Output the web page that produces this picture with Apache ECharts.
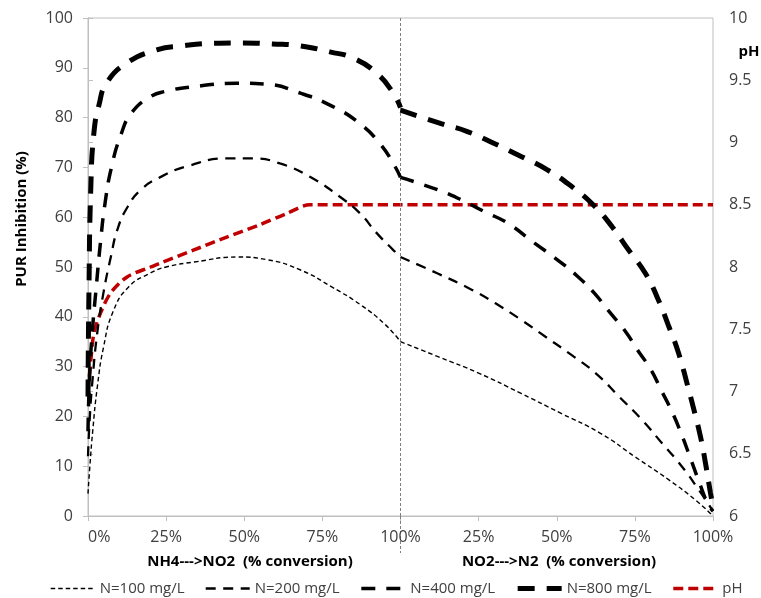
<!DOCTYPE html>
<html><head><meta charset="utf-8">
<script src="https://cdn.jsdelivr.net/npm/echarts@6/dist/echarts.min.js"></script>
<style>html,body{margin:0;padding:0;background:#fff}#c{width:761px;height:598px}</style>
</head><body><div id="c"></div>
<script>
// x positions: phase 1 (NH4->NO2) 0..100, phase 2 (NO2->N2) shifted by 100
const xTickLabels = ['0%','25%','50%','75%','100%','25%','50%','75%','100%'];
const seriesNames = ['N=100 mg/L','N=200 mg/L','N=400 mg/L','N=800 mg/L','pH'];
const phaseBoundary = 100;

// [conversion %, PUR inhibition %]
const n100Phase1 = [[0,4.5],[0.6,10],[1.5,17],[3,26],[5,34],[8,41],[13,46],[20,48.8],[25,50],[34,51],[48,52],[57,51.5],[68,49.4],[78,46],[87,42.5],[95,38.5],[100,35]];
const n100Phase2 = [[0,35],[12,32],[25,28.7],[38.6,24.6],[51.4,20.6],[64,16.6],[75,11.9],[86,7.2],[94.4,3.2],[100,0]];
const n200Phase1 = [[0,12],[0.5,19],[1.4,27],[3,37],[5,45],[7.3,52],[9.4,57.5],[12.6,62],[16.9,65.5],[23.3,68.1],[31.6,70.2],[44.4,71.8],[52.8,71.8],[61.4,70.8],[71,68.1],[80.6,64.1],[87,60.8],[92.4,56.8],[97.7,53.4],[100,52]];
const n200Phase2 = [[0,52],[11.9,48.7],[22.9,45.4],[30.4,42.7],[38.6,39.4],[46.4,36],[53.9,32.7],[62.4,28.7],[69.9,24],[77.3,19.3],[83.7,14.6],[90.1,9.9],[95.5,5.2],[100,1]];
const n400Phase1 = [[0,17],[0.5,28],[1.5,38],[2.5,45],[4,55],[5.5,63],[7.5,70],[10.5,76.5],[14,81],[20,84.2],[25,85.3],[33.6,86.2],[47.6,86.9],[57,86.7],[68,84.9],[78.4,82.2],[87,78.8],[93.4,74.8],[97.7,70.8],[100,68]];
const n400Phase2 = [[0,68],[11.9,65.5],[19.4,63.5],[26.9,61.1],[34.3,58.8],[42.9,54.8],[50.3,51.4],[56.7,48.1],[62.1,44.7],[66.3,41.4],[71.7,37.3],[75.9,33.3],[80.2,29.3],[83.4,25.3],[86.6,21.3],[89.8,16.6],[93,11.2],[95.7,6.6],[98.3,2.5],[100,1]];
const n800Phase1 = [[0,24],[0.3,45],[0.9,66],[1.9,77],[3.5,82.5],[6,87],[12.5,91],[22,93.6],[30,94.4],[39,94.9],[49.6,95],[59,94.8],[68,94.4],[77.4,93.2],[85,91.9],[92.4,88.9],[97.6,85],[100,82]];
const n800Phase2 = [[0,81.5],[13,78.8],[21.4,77.2],[30,74.8],[38.6,72.2],[47,69.5],[54.9,66.1],[61.8,62.4],[67.7,58.1],[73,53.4],[78.4,48.7],[82.1,44],[85.9,38],[89,32.7],[91.7,26.6],[93.9,21.3],[96,15.9],[97.6,10.6],[99.2,4.6],[100,2]];
// [conversion %, pH]
const phPhase1 = [[0,7],[0.9,7.25],[1.9,7.47],[4,7.63],[7.2,7.79],[12.5,7.92],[20,8.0],[23,8.03],[33.7,8.135],[44.4,8.24],[55,8.34],[63.6,8.43],[71,8.5],[100,8.5]];
const phPhase2 = [[0,8.5],[100,8.5]];

const p1 = a => a.map(d => [d[0], d[1]]);
const p2 = a => a.map(d => [d[0] + phaseBoundary, d[1]]);

const FONT = '"Open Sans", sans-serif';
const TXT = '#404040';
const AX = '#BFBFBF';
const RED = '#C00000';

const styles = [
  {width: 1.4, type: [4.5, 3], color: '#000'},
  {width: 2.3, type: [10, 7.5], color: '#000'},
  {width: 3.5, type: [14, 11], color: '#000'},
  {width: 5, type: [17, 12], color: '#000'}
];
const phStyle = {width: 3.5, type: [10, 5], color: RED};
const curveSets = [[n100Phase1, n100Phase2],[n200Phase1, n200Phase2],[n400Phase1, n400Phase2],[n800Phase1, n800Phase2]];

const series = [];
curveSets.forEach((set, i) => {
  [p1(set[0]), p2(set[1])].forEach(data => {
    series.push({
      name: seriesNames[i], type: 'line', xAxisIndex: 0, yAxisIndex: 0,
      data, symbol: 'none', smooth: 0.5, silent: true,
      lineStyle: styles[i], itemStyle: {color: '#000'}, z: 3 + i
    });
  });
});
series.push({
  name: 'pH', type: 'line', xAxisIndex: 0, yAxisIndex: 1,
  data: p1(phPhase1).concat(p2(phPhase2).slice(1)), symbol: 'none', smooth: 0.3, silent: true,
  lineStyle: phStyle, itemStyle: {color: RED}, z: 2,
  markLine: {
    silent: true, symbol: ['none','none'], label: {show: false},
    lineStyle: {color: '#7F7F7F', type: [3, 2], width: 1},
    data: [{xAxis: phaseBoundary}]
  }
});

const legendStyles = styles.concat([phStyle]);
const legendData = seriesNames.map((n, i) => ({
  name: n,
  lineStyle: {width: legendStyles[i].width, type: legendStyles[i].type, color: legendStyles[i].color}
}));

const chart = echarts.init(document.getElementById('c'), null, {renderer: 'canvas'});
chart.setOption({
  animation: false,
  backgroundColor: '#fff',
  grid: {left: 88, right: 48, top: 18, bottom: 82, show: true, borderColor: AX, borderWidth: 1},
  xAxis: [{
    type: 'value', min: 0, max: 200, interval: 25,
    axisLine: {show: true, lineStyle: {color: AX}},
    axisTick: {show: true, length: 5, lineStyle: {color: AX}},
    splitLine: {show: false},
    axisLabel: {color: TXT, fontSize: 16, fontFamily: FONT, margin: 13, alignMinLabel: 'left',
      formatter: v => xTickLabels[Math.round(v / 25)]}
  }, {
    type: 'value', min: 0, max: 200, position: 'bottom',
    axisLine: {show: false}, splitLine: {show: false}, axisLabel: {show: false},
    axisTick: {show: true, customValues: [phaseBoundary], length: 37, lineStyle: {color: '#7F7F7F', type: [3, 2], width: 1}}
  }],
  yAxis: [{
    type: 'value', min: 0, max: 100, interval: 10, position: 'left',
    axisLine: {show: true, lineStyle: {color: AX}},
    axisTick: {show: true, length: 5, lineStyle: {color: AX}},
    splitLine: {show: false},
    axisLabel: {color: TXT, fontSize: 16, fontFamily: FONT, margin: 15}
  }, {
    type: 'value', min: 6, max: 10, interval: 0.5, position: 'right',
    axisLine: {show: true, lineStyle: {color: AX}},
    axisTick: {show: true, length: 5, lineStyle: {color: AX}},
    splitLine: {show: false},
    axisLabel: {color: TXT, fontSize: 16, fontFamily: FONT, margin: 16}
  }],
  legend: {
    data: legendData, top: 581, left: 50, width: 711, padding: 0, itemGap: 20, itemWidth: 44, itemHeight: 14,
    itemStyle: {opacity: 0},
    textStyle: {color: TXT, fontSize: 15, fontFamily: FONT},
    selectedMode: false
  },
  graphic: [
    {type: 'text', x: 22, y: 219, rotation: Math.PI / 2,
      style: {text: 'PUR Inhibition (%)', font: 'bold 15px ' + FONT, fill: '#000', textAlign: 'center', textVerticalAlign: 'middle'}},
    {type: 'text', x: 250, y: 562,
      style: {text: 'NH4--->NO2  (% conversion)', font: 'bold 15px ' + FONT, fill: '#000', textAlign: 'center', textVerticalAlign: 'middle'}},
    {type: 'text', x: 559, y: 562,
      style: {text: 'NO2--->N2  (% conversion)', font: 'bold 15px ' + FONT, fill: '#000', textAlign: 'center', textVerticalAlign: 'middle'}},
    {type: 'text', x: 749, y: 52,
      style: {text: 'pH', font: 'bold 15px ' + FONT, fill: '#000', textAlign: 'center', textVerticalAlign: 'middle'}}
  ],
  series
});
</script></body></html>
